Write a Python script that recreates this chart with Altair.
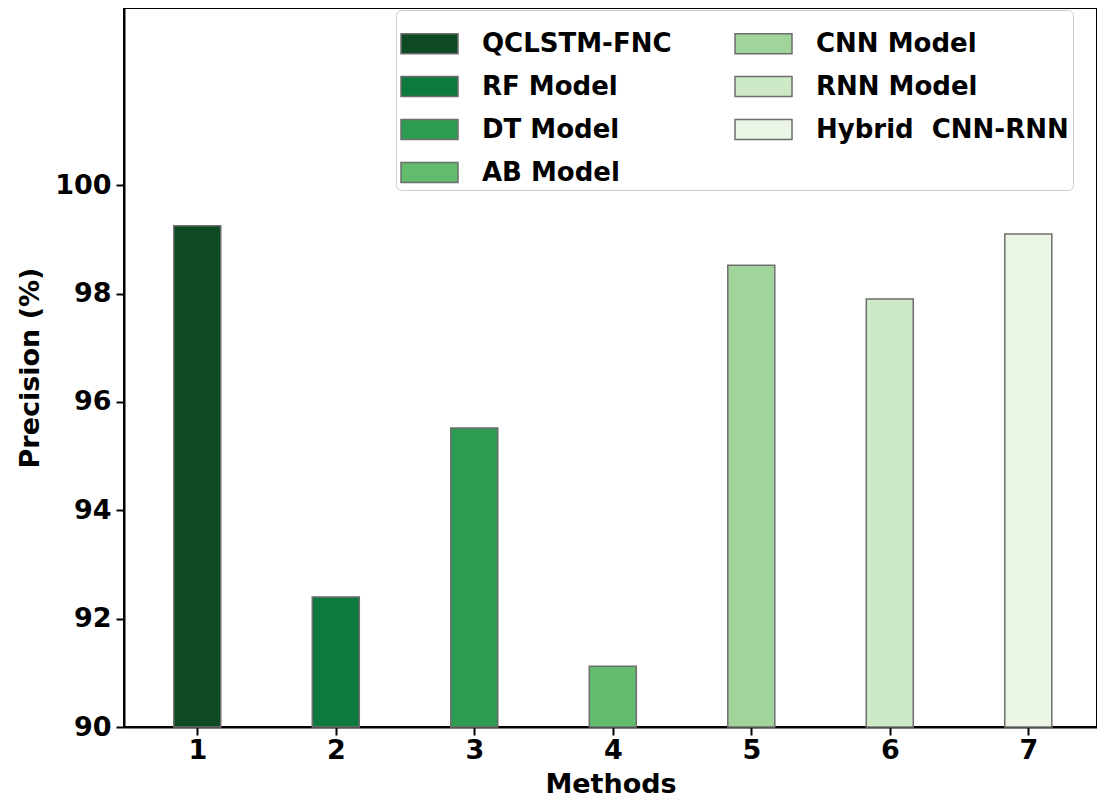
import altair as alt
import pandas as pd

methods = [1, 2, 3, 4, 5, 6, 7]
names = ["QCLSTM-FNC", "RF Model", "DT Model", "AB Model",
         "CNN Model", "RNN Model", "Hybrid\u00a0 CNN-RNN"]
precision = [99.25, 92.4, 95.52, 91.12, 98.52, 97.9, 99.1]
colors = ["#0d4a24", "#0c7a3c", "#2e9c50", "#63bc6e",
          "#a0d49b", "#cde9c6", "#ecf6e6"]

df = pd.DataFrame({"method": methods, "name": names, "precision": precision})
FONT = "DejaVu Sans"

chart = alt.Chart(df).mark_bar(size=47, stroke="#6e6e6e", strokeWidth=1.5).encode(
    x=alt.X("method:Q",
            scale=alt.Scale(domain=[0.507, 7.46], nice=False, zero=False),
            axis=alt.Axis(values=methods, format="d", title="Methods",
                          titlePadding=8, labelPadding=2)),
    y=alt.Y("precision:Q",
            scale=alt.Scale(domain=[90, 103.27], nice=False, zero=False),
            axis=alt.Axis(values=[90, 92, 94, 96, 98, 100], title="Precision (%)",
                          titlePadding=10, labelPadding=5)),
    y2=alt.datum(90),
    color=alt.Color("name:N", scale=alt.Scale(domain=names, range=colors),
                    legend=alt.Legend(
                        title=None, orient="none", legendX=272, legendY=2,
                        columns=2, columnPadding=60, rowPadding=-9,
                        symbolType="M-1,-0.35H1V0.35H-1Z", symbolSize=3249,
                        symbolStrokeColor="#6e6e6e", symbolStrokeWidth=1.5,
                        symbolOpacity=1,
                        labelFont=FONT, labelFontWeight="bold", labelFontSize=26,
                        labelColor="black", labelOffset=23, labelLimit=400,
                        strokeColor="#cccccc", cornerRadius=5, padding=4,
                        fillColor="white")),
).properties(
    width=973, height=719,
    padding={"left": 116, "top": 0, "right": 0, "bottom": 72},
    autosize=alt.AutoSizeParams(type="none"),
).configure_view(
    stroke="black", strokeWidth=2
).configure_axis(
    grid=False, domainColor="black", domainWidth=2, tickColor="black",
    tickWidth=2, tickSize=8, labelFont=FONT, labelFontWeight="bold",
    labelFontSize=27, labelColor="black", titleFont=FONT,
    titleFontWeight="bold", titleFontSize=27, titleColor="black",
)

chart.save("out.html", embed_options={"renderer": "svg", "actions": False})
